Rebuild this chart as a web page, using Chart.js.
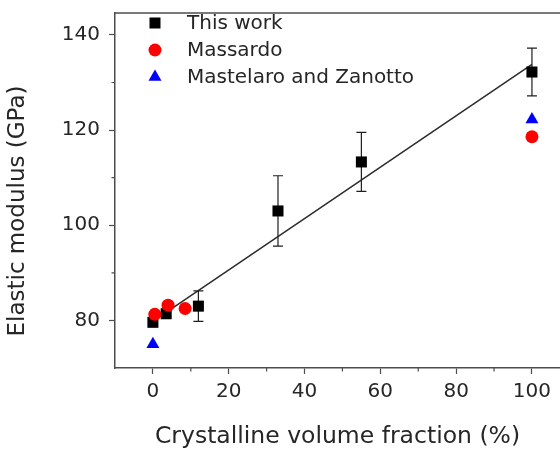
<!DOCTYPE html>
<html>
<head>
<meta charset="utf-8">
<title>Elastic modulus vs crystalline volume fraction</title>
<script src="https://cdn.jsdelivr.net/npm/chart.js@4.4.1/dist/chart.umd.min.js"></script>
<style>
  html, body { margin: 0; padding: 0; background: #fff; }
  canvas { display: block; }
</style>
</head>
<body>
<canvas id="modulusChart" width="560" height="453"></canvas>
<script>
// Elastic modulus against crystalline volume fraction

// this work: measured points with error bars
const workFraction = [0, 3.5, 12, 33, 55, 100];
const workModulus = [79.6, 81.4, 83.0, 103.0, 113.3, 132.2];
const workError = [0.6, 0.6, 3.2, 7.4, 6.2, 5.0];

// literature values
const massardoFraction = [0.5, 4, 8.5, 100];
const massardoModulus = [81.3, 83.2, 82.5, 118.6];
const zanottoFraction = [0, 100];
const zanottoModulus = [75.0, 122.2];

// linear fit through the measured points
const fitFraction = [0, 100];
const fitModulus = [79.8, 133.8];

const xTickLabels = [0, 20, 40, 60, 80, 100];
const yTickLabels = [80, 100, 120, 140];

const legendNames = ['This work', 'Massardo', 'Mastelaro and Zanotto'];
const yTitle = 'Elastic modulus (GPa)';

const axisColor = '#4d4d4d';
const textColor = '#262626';

Chart.defaults.font.family = "'DejaVu Sans', sans-serif";
Chart.defaults.color = textColor;

function toPoints(xs, ys) {
    return xs.map((v, i) => ({ x: v, y: ys[i] }));
}

// vertical error bars, drawn just before the squares so they sit underneath
const errorBars = {
    id: 'errorBars',
    beforeDatasetDraw(chart, args) {
        if (args.index !== 0) return;
        const { ctx, scales: { x, y } } = chart;
        ctx.save();
        ctx.strokeStyle = '#1f1f1f';
        ctx.lineWidth = 1.2;
        workFraction.forEach((f, i) => {
            const px = x.getPixelForValue(f);
            const top = y.getPixelForValue(workModulus[i] + workError[i]);
            const bottom = y.getPixelForValue(workModulus[i] - workError[i]);
            ctx.beginPath();
            ctx.moveTo(px, top);
            ctx.lineTo(px, bottom);
            ctx.moveTo(px - 5, top);
            ctx.lineTo(px + 5, top);
            ctx.moveTo(px - 5, bottom);
            ctx.lineTo(px + 5, bottom);
            ctx.stroke();
        });
        ctx.restore();
    }
};

// top frame line, the short minor ticks and the y title
const frame = {
    id: 'frame',
    afterDraw(chart) {
        const { ctx, chartArea, scales: { x, y } } = chart;
        ctx.save();
        ctx.strokeStyle = axisColor;
        ctx.lineWidth = 1.5;
        ctx.beginPath();
        ctx.moveTo(chartArea.left, chartArea.top);
        ctx.lineTo(chartArea.right, chartArea.top);
        ctx.stroke();

        ctx.lineWidth = 1.2;
        ctx.beginPath();
        x.ticks.forEach(t => {
            if (t.label !== '') return;
            const px = x.getPixelForValue(t.value);
            ctx.moveTo(px, chartArea.bottom);
            ctx.lineTo(px, chartArea.bottom + 3.5);
        });
        y.ticks.forEach(t => {
            if (t.label !== '') return;
            const py = y.getPixelForValue(t.value);
            ctx.moveTo(chartArea.left, py);
            ctx.lineTo(chartArea.left - 3.5, py);
        });
        ctx.stroke();

        // y title sits a little below the middle of the axis
        ctx.translate(18, 211);
        ctx.rotate(-Math.PI / 2);
        ctx.fillStyle = textColor;
        ctx.font = "23px 'DejaVu Sans'";
        ctx.textAlign = 'center';
        ctx.textBaseline = 'middle';
        ctx.fillText(yTitle, 0, 0);
        ctx.restore();
    }
};

// legend in the upper left corner of the plot
const cornerLegend = {
    id: 'cornerLegend',
    afterDraw(chart) {
        const { ctx } = chart;
        const mx = 155, tx = 187;
        const rows = [23, 50, 77];
        ctx.save();
        // square
        ctx.fillStyle = '#000';
        ctx.fillRect(mx - 5.5, rows[0] - 5.5, 11, 11);
        // circle
        ctx.fillStyle = '#ff0000';
        ctx.beginPath();
        ctx.arc(mx, rows[1], 6.5, 0, Math.PI * 2);
        ctx.fill();
        // triangle
        ctx.fillStyle = '#0000ff';
        ctx.beginPath();
        ctx.moveTo(mx, rows[2] - 7.5);
        ctx.lineTo(mx + 6.5, rows[2] + 3.75);
        ctx.lineTo(mx - 6.5, rows[2] + 3.75);
        ctx.closePath();
        ctx.fill();

        ctx.fillStyle = textColor;
        ctx.font = "20px 'DejaVu Sans'";
        ctx.textBaseline = 'middle';
        legendNames.forEach((name, i) => ctx.fillText(name, tx, rows[i] + 1));
        ctx.restore();
    }
};

const ctx = document.getElementById('modulusChart').getContext('2d');

new Chart(ctx, {
    type: 'scatter',
    data: {
        datasets: [
            {
                label: legendNames[0],
                data: toPoints(workFraction, workModulus),
                pointStyle: 'rect',
                pointRadius: 7.8,
                backgroundColor: '#000',
                borderColor: '#000',
                borderWidth: 0,
                order: 3
            },
            {
                label: legendNames[1],
                data: toPoints(massardoFraction, massardoModulus),
                pointStyle: 'circle',
                pointRadius: 6.5,
                backgroundColor: '#ff0000',
                borderColor: '#ff0000',
                borderWidth: 0,
                order: 2
            },
            {
                label: legendNames[2],
                data: toPoints(zanottoFraction, zanottoModulus),
                pointStyle: 'triangle',
                pointRadius: 7.5,
                backgroundColor: '#0000ff',
                borderColor: '#0000ff',
                borderWidth: 0,
                order: 1
            },
            {
                label: 'fit',
                data: toPoints(fitFraction, fitModulus),
                showLine: true,
                pointRadius: 0,
                borderColor: '#2b2b2b',
                borderWidth: 1.5,
                order: 4
            }
        ]
    },
    options: {
        responsive: false,
        animation: false,
        layout: {
            autoPadding: false,
            padding: { top: 13, right: 0, bottom: 0, left: 0 }
        },
        plugins: {
            legend: { display: false },
            tooltip: { enabled: false }
        },
        scales: {
            x: {
                type: 'linear',
                min: -10,
                max: 107.4,
                afterFit: scale => {
                    scale.height = 85;
                    scale.paddingLeft = 0;
                    scale.paddingRight = 0;
                },
                border: { color: axisColor, width: 1.5 },
                grid: {
                    drawOnChartArea: false,
                    drawTicks: true,
                    tickLength: 6,
                    tickWidth: 1.2,
                    tickColor: c => (c.tick && xTickLabels.includes(c.tick.value)) ? axisColor : 'rgba(0,0,0,0)'
                },
                ticks: {
                    stepSize: 10,
                    includeBounds: false,
                    padding: 6,
                    maxRotation: 0,
                    autoSkip: false,
                    font: { size: 20 },
                    color: textColor,
                    callback: v => xTickLabels.includes(v) ? String(v) : (v > -10 && v < 100 && v % 10 === 0 ? '' : null)
                },
                title: {
                    display: true,
                    text: 'Crystalline volume fraction (%)',
                    font: { size: 23.5 },
                    color: textColor,
                    padding: { top: 0, bottom: 2 }
                }
            },
            y: {
                type: 'linear',
                min: 70,
                max: 144.6,
                afterFit: scale => {
                    scale.width = 115;
                    scale.paddingTop = 0;
                    scale.paddingBottom = 0;
                },
                border: { color: axisColor, width: 1.5 },
                grid: {
                    drawOnChartArea: false,
                    drawTicks: true,
                    tickLength: 6,
                    tickWidth: 1.2,
                    tickColor: c => (c.tick && yTickLabels.includes(c.tick.value)) ? axisColor : 'rgba(0,0,0,0)'
                },
                ticks: {
                    stepSize: 10,
                    includeBounds: false,
                    padding: 9,
                    autoSkip: false,
                    font: { size: 20 },
                    color: textColor,
                    callback: v => yTickLabels.includes(v) ? String(v) : (v > 70 && v < 140 && v % 10 === 0 ? '' : null)
                }
            }
        }
    },
    plugins: [errorBars, frame, cornerLegend]
});
</script>
</body>
</html>
